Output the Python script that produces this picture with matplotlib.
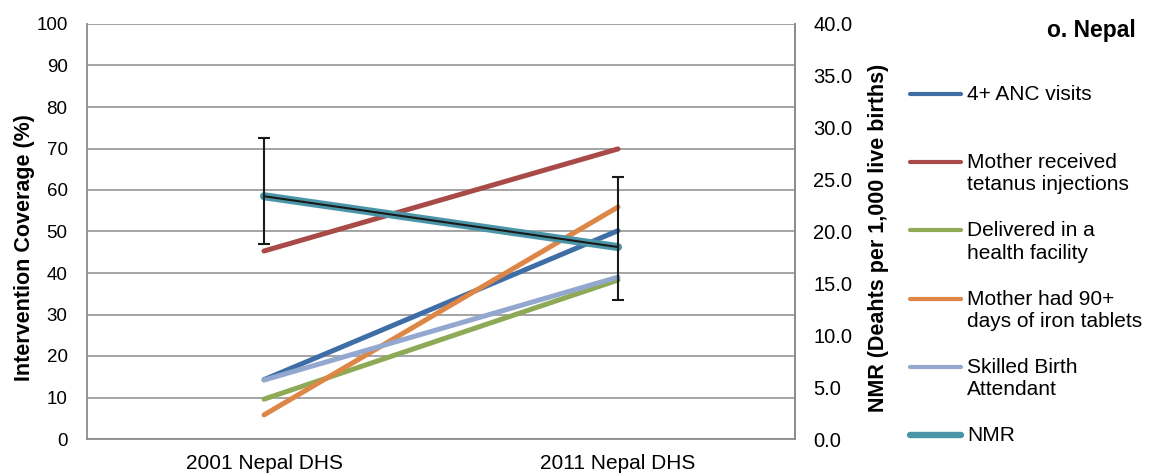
import matplotlib
matplotlib.use("Agg")
import matplotlib.pyplot as plt
from matplotlib.lines import Line2D

plt.rcParams['font.family'] = ['Liberation Sans', 'DejaVu Sans']

# Survey rounds
surveys = ["2001 Nepal DHS", "2011 Nepal DHS"]

# Intervention coverage (%), left axis
anc4 = [14.3, 50.2]
tetanus = [45.3, 69.9]
facility = [9.6, 38.3]
iron90 = [5.8, 55.9]
sba = [14.2, 39.0]

# Neonatal mortality rate (per 1,000 live births), right axis
nmr = [23.4, 18.5]
nmr_low = [18.8, 13.4]
nmr_high = [29.0, 25.3]

left_ticks = list(range(0, 101, 10))
right_ticks = [0.0, 5.0, 10.0, 15.0, 20.0, 25.0, 30.0, 35.0, 40.0]

series = [
    ("4+ ANC visits", anc4, "#3F6EA6"),
    ("Mother received\ntetanus injections", tetanus, "#A84B48"),
    ("Delivered in a\nhealth facility", facility, "#8EAA56"),
    ("Mother had 90+\ndays of iron tablets", iron90, "#DE8645"),
    ("Skilled Birth\nAttendant", sba, "#93A8CF"),
]
nmr_label = "NMR"
nmr_color = "#4A96A8"

W, H = 1149, 476
fig = plt.figure(figsize=(W / 100, H / 100), dpi=100)
ax = fig.add_axes([87 / W, 1 - 439 / H, (795 - 87) / W, (439 - 24) / H])
ax2 = ax.twinx()

x = list(range(len(surveys)))
for label, vals, col in series:
    ax.plot(x, vals, color=col, lw=3.6, solid_capstyle="round", zorder=3)

ax.set_xlim(-0.5, 1.5)
ax.set_ylim(0, 100)
ax.set_yticks(left_ticks)
ax.set_yticklabels([str(t) for t in left_ticks])
ax.set_xticks(x)
ax.set_xticklabels(surveys)
ax.tick_params(axis="both", length=0, colors="black")
ax.tick_params(axis="y", pad=14, labelsize=13.5)
ax.tick_params(axis="x", pad=11, labelsize=15)
ax.grid(axis="y", color="#8C8C8C", lw=1.1)
ax.set_axisbelow(True)

grey = "#8C8C8C"
for side in ["left", "bottom", "right"]:
    ax.spines[side].set_color(grey)
    ax.spines[side].set_linewidth(1.3)
ax.spines["top"].set_visible(False)
for side in ["left", "bottom", "top"]:
    ax2.spines[side].set_visible(False)
ax2.spines["right"].set_color(grey)
ax2.spines["right"].set_linewidth(1.3)

ax.set_ylabel("Intervention Coverage (%)", fontsize=15.5, fontweight="bold")
ax.yaxis.set_label_coords(-52 / 708, (439 - 248) / 415)

# NMR on secondary axis with error bars and trend line
ax2.set_ylim(0, 40)
ax2.set_yticks(right_ticks)
ax2.set_yticklabels([f"{t:.1f}" for t in right_ticks])
ax2.tick_params(axis="y", length=0, labelsize=14.5, pad=13)
ax2.plot(x, nmr, color=nmr_color, lw=5.8, solid_capstyle="round", zorder=4)
ax2.plot(x, nmr, color="#1A1A1A", lw=1.5, zorder=5)
yerr = [[n - lo for n, lo in zip(nmr, nmr_low)], [hi - n for n, hi in zip(nmr, nmr_high)]]
ax2.errorbar(x, nmr, yerr=yerr, fmt="none", ecolor="#1A1A1A", elinewidth=1.5,
             capsize=4.5, capthick=1.5, zorder=6)
ax2.set_ylabel("NMR (Deahts per 1,000 live births)", fontsize=15.5, fontweight="bold")
ax2.yaxis.set_label_coords((868 - 87) / 708, (439 - 238) / 415)

# Legend drawn at fixed positions
entries = [(lab, col, 3.0) for lab, _, col in series] + [(nmr_label, nmr_color, 4.6)]
y0, dy = 94, 68.2
for i, (lab, col, lw) in enumerate(entries):
    yy = 1 - (y0 + i * dy) / H
    fig.add_artist(Line2D([910 / W, 961 / W], [yy, yy], color=col, lw=lw,
                          solid_capstyle="round", transform=fig.transFigure))
    fig.text(967 / W, yy + 9 / H, lab, fontsize=15, va="top", ha="left",
             linespacing=1.22)

fig.text(1136 / W, 1 - 30 / H, "o. Nepal", fontsize=16.5, fontweight="bold",
         ha="right", va="center")

fig.savefig("out.png", dpi=100)
